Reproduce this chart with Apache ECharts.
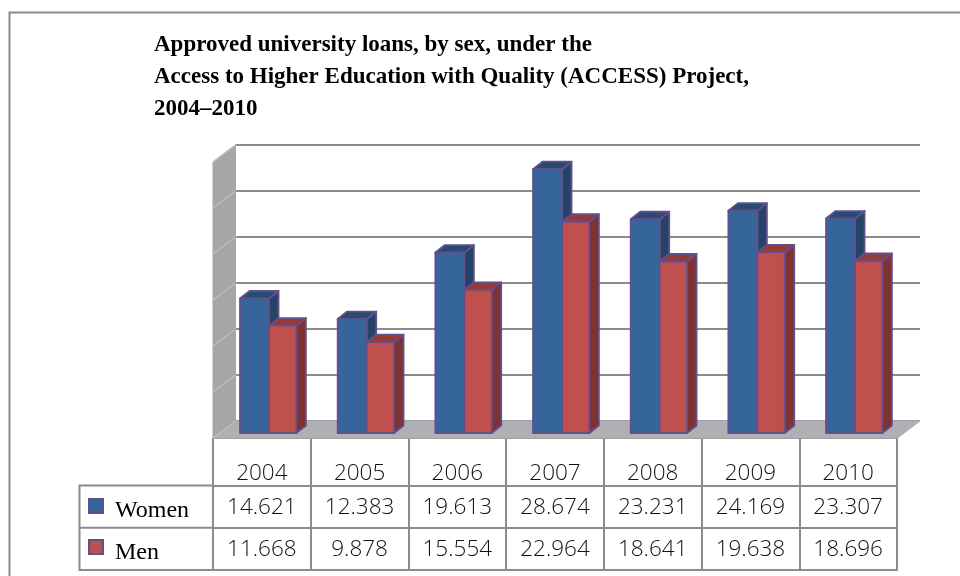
<!DOCTYPE html>
<html><head><meta charset="utf-8">
<style>html,body{margin:0;padding:0;background:#fff}#c{width:960px;height:576px}</style>
<script src="https://cdn.jsdelivr.net/npm/echarts@6/dist/echarts.min.js"></script>
</head><body><div id="c"></div>
<script>
const titleText = 'Approved university loans, by sex, under the\nAccess to Higher Education with Quality (ACCESS) Project,\n2004–2010';
const years = ['2004','2005','2006','2007','2008','2009','2010'];
const women = [14.621,12.383,19.613,28.674,23.231,24.169,23.307];
const men = [11.668,9.878,15.554,22.964,18.641,19.638,18.696];
const rowNames = ['Men','Women'];
const yTicks = [0,5,10,15,20,25,30];

const GRAY='#8c8c8c';
const DX=22.5, DY=17;
const fmt = v => v.toFixed(3);

function bar3d(front, top, side, start, end){
  return function(params, api){
    const c = api.coord([api.value(0), api.value(1)]);
    const base = api.coord([api.value(0), 0]);
    const band = api.size([1,0])[0];
    const x0 = c[0] + band*start, x1 = c[0] + band*end, y0 = c[1], y1 = base[1];
    const dx = 9.5, dy = 7.5;
    const st = {stroke:'#634f8a', lineWidth:1.8, lineJoin:'round'};
    return {type:'group', children:[
      {type:'polygon', shape:{points:[[x1,y0],[x1+dx,y0-dy],[x1+dx,y1-dy],[x1,y1]]}, style:Object.assign({fill:side},st)},
      {type:'polygon', shape:{points:[[x0,y0],[x0+dx,y0-dy],[x1+dx,y0-dy],[x1,y0]]}, style:Object.assign({fill:top},st)},
      {type:'rect', shape:{x:x0,y:y0,width:x1-x0,height:y1-y0}, style:Object.assign({fill:front},st)}
    ]};
  };
}

function roomItem(params, api){
  const y = api.coord([0, api.value(0)])[1];
  const g = params.coordSys;
  const left = g.x, right = g.x+g.width;
  const kids = [];
  if(params.dataIndex===0){
    const top = api.coord([0,30])[1];
    kids.push({type:'polygon', shape:{points:[[left-DX,y+DY],[left,y],[left,top],[left-DX,top+DY]]}, style:{fill:'#a6a6a6',stroke:'#a6a6a6',lineWidth:1}});
    kids.push({type:'polygon', shape:{points:[[left-DX,y+DY],[left,y],[right,y],[right-DX,y+DY]]}, style:{fill:'#b1afb4',stroke:'#b1afb4',lineWidth:1}});
  }
  kids.push({type:'line', shape:{x1:left,y1:y,x2:left-DX,y2:y+DY}, style:{stroke:'#bdbdbd',lineWidth:1.5}});
  return {type:'group',children:kids};
}

function cellItem(params, api){
  const c = api.coord([api.value(0), api.value(1)]);
  return {type:'text', x:c[0], y:c[1]+0.5, style:{text:fmt(api.value(2)), x:0,y:0, align:'center', verticalAlign:'middle',
    fontFamily:'"Open Sans"', fontWeight:300, fontSize:22.5, fill:'#111'}};
}

const cells = [];
years.forEach((y,i)=>{ cells.push([i,1,women[i]]); cells.push([i,0,men[i]]); });

const chart = echarts.init(document.getElementById('c'), null, {renderer:'canvas'});
chart.setOption({
  animation:false,
  backgroundColor:'#fff',
  title:{text:titleText,left:149,top:24,itemGap:0,
    textStyle:{fontFamily:'"Liberation Serif"',fontWeight:'bold',fontSize:23,lineHeight:32,color:'#000'}},
  legend:{orient:'vertical',left:83,top:493,itemGap:25,itemWidth:14,itemHeight:14,icon:'rect',
    formatter:()=>'',
    data:[
      {name:'Women',itemStyle:{color:'#36659c',borderColor:'#634f8a',borderWidth:2}},
      {name:'Men',itemStyle:{color:'#c0504d',borderColor:'#634f8a',borderWidth:2}}
    ],
    textStyle:{fontSize:8}},
  grid:[
    {left:219.7,width:683.7,top:157,height:276},
    {left:235.5,width:684.5,top:145,height:276},
    {left:213,width:684,top:438,height:47.5},
    {left:213,width:684,top:485.5,height:84.5}
  ],
  xAxis:[
    {gridIndex:0,type:'category',data:years,show:false},
    {gridIndex:1,type:'value',min:0,max:1,show:false},
    {gridIndex:2,type:'category',data:years,position:'bottom',
      axisLine:{show:true,lineStyle:{color:GRAY,width:2}},axisTick:{show:false},
      axisLabel:{inside:true,margin:0,fontFamily:'"Open Sans"',fontWeight:300,fontSize:22.5,color:'#111'},
      splitLine:{show:true,lineStyle:{color:GRAY,width:2}}},
    {gridIndex:3,type:'category',data:years,position:'bottom',
      axisLine:{show:true,lineStyle:{color:GRAY,width:2}},axisTick:{show:false},axisLabel:{show:false},
      splitLine:{show:true,lineStyle:{color:GRAY,width:2}}}
  ],
  yAxis:[
    {gridIndex:0,type:'value',min:0,max:30,interval:5,show:false},
    {gridIndex:1,type:'value',min:0,max:30,interval:5,
      axisLine:{show:false},axisTick:{show:false},axisLabel:{show:false},
      splitLine:{show:true,lineStyle:{color:GRAY,width:2}}},
    {gridIndex:2,type:'value',min:0,max:1,interval:1,
      axisLine:{show:false},axisTick:{show:false},axisLabel:{show:false},
      splitLine:{show:true,lineStyle:{color:GRAY,width:2}}},
    {gridIndex:3,type:'category',data:rowNames,axisLine:{show:true,lineStyle:{color:GRAY,width:2}},axisTick:{show:false},
      axisLabel:{show:true,margin:98,align:'left',verticalAlign:'top',lineHeight:8,fontFamily:'"Liberation Serif"',fontSize:24,color:'#000'},
      splitLine:{show:true,lineStyle:{color:GRAY,width:2}}}
  ],
  series:[
    {name:'room',type:'custom',xAxisIndex:1,yAxisIndex:1,z:1,silent:true,encode:{y:0},data:yTicks.map(v=>[v]),renderItem:roomItem},
    {name:'Women',type:'custom',xAxisIndex:0,yAxisIndex:0,z:3,encode:{x:0,y:1},itemStyle:{color:'#36659c'},
      data:women.map((v,i)=>[i,v]),renderItem:bar3d('#36659c','#274b73','#234468',-0.292,0.005)},
    {name:'Men',type:'custom',xAxisIndex:0,yAxisIndex:0,z:4,encode:{x:0,y:1},itemStyle:{color:'#c0504d'},
      data:men.map((v,i)=>[i,v]),renderItem:bar3d('#c0504d','#963a38','#7e3231',0.005,0.285)},
    {name:'table',type:'custom',xAxisIndex:3,yAxisIndex:3,z:5,silent:true,encode:{x:0,y:1},data:cells,renderItem:cellItem}
  ],
  graphic:[
    {type:'polyline',z:0,shape:{points:[[9.5,576],[9.5,12.5],[960,12.5]]},style:{stroke:GRAY,lineWidth:2,fill:null}},
    {type:'rect',z:-1,shape:{x:79.5,y:485.5,width:133.5,height:84.5},style:{stroke:GRAY,lineWidth:2,fill:'#fff'}},
    {type:'line',z:0,shape:{x1:79.5,y1:527.7,x2:213,y2:527.7},style:{stroke:GRAY,lineWidth:2}}
  ]
});
</script></body></html>
